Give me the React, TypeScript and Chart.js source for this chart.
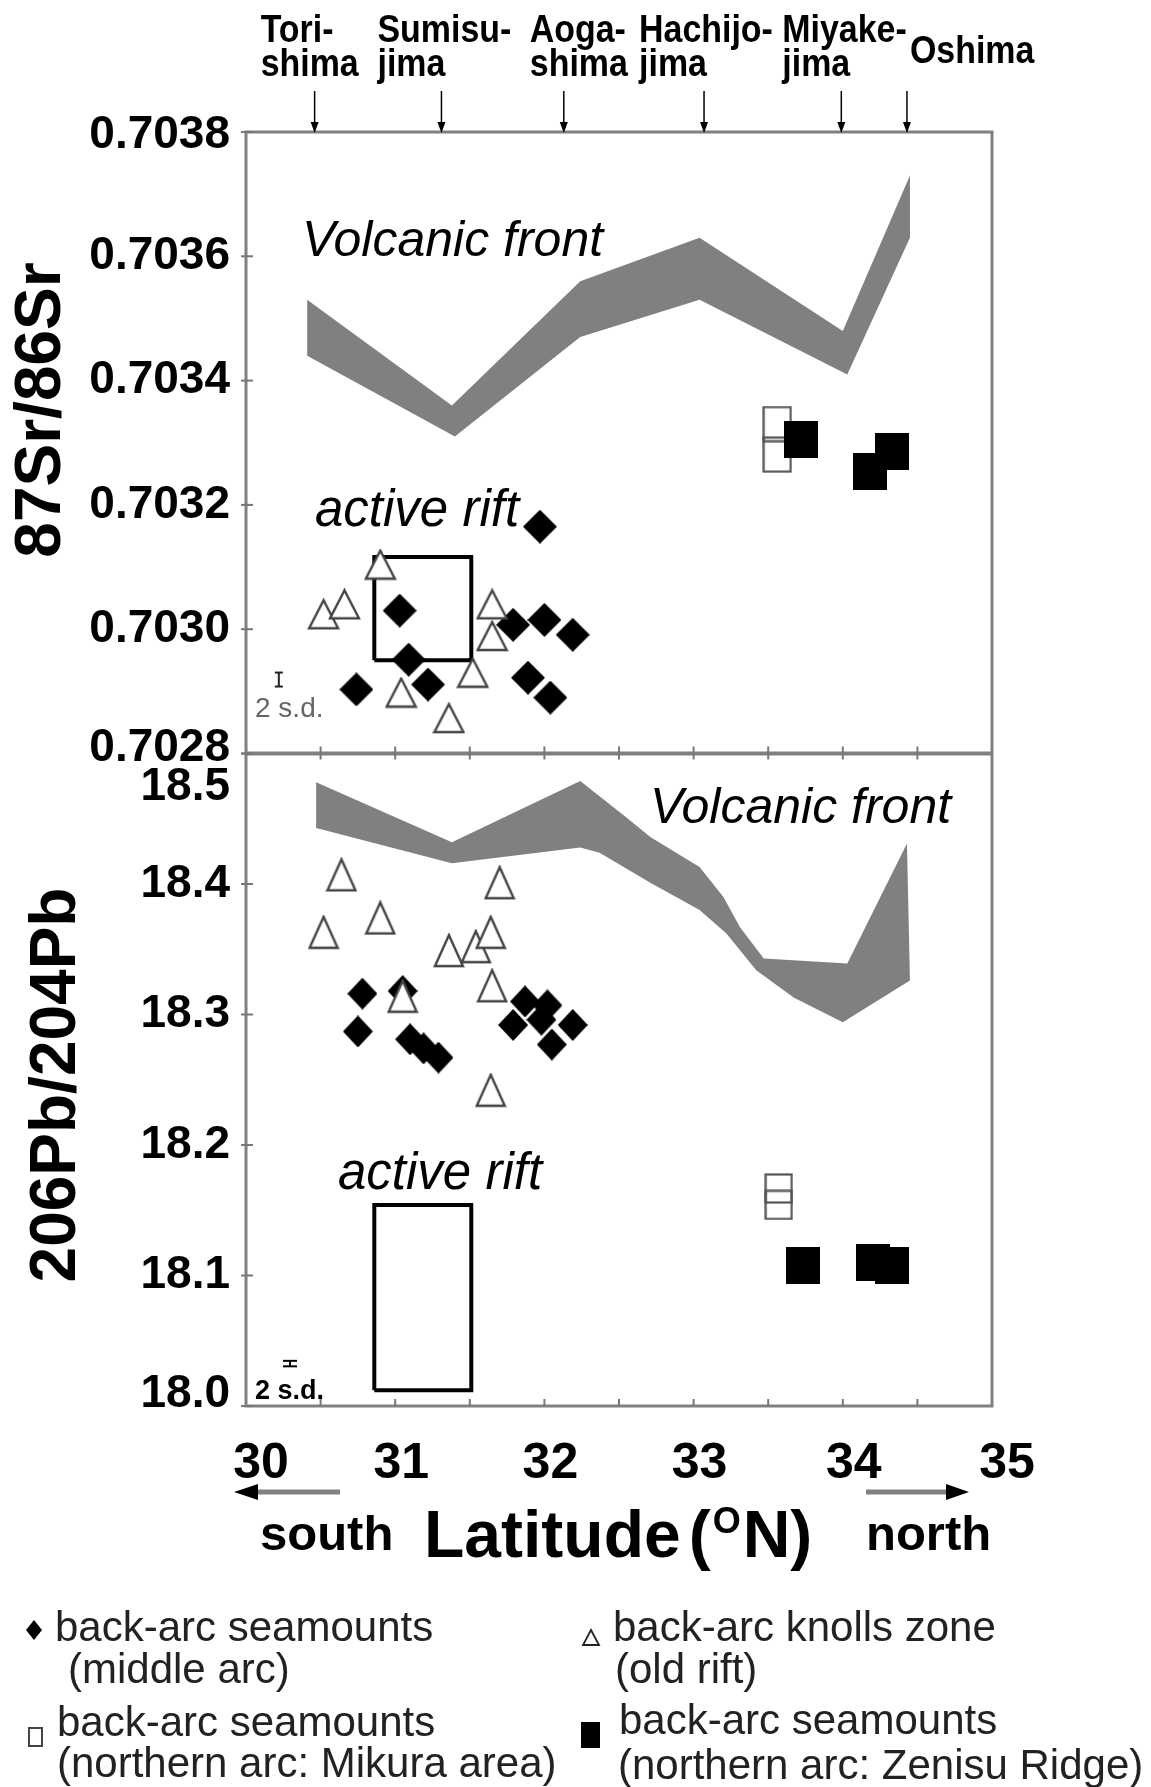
import React, { useEffect, useRef } from 'react';
import { Chart, registerables } from 'chart.js';

Chart.register(...registerables);

const FONT = '"Liberation Sans", Arial, Helvetica, sans-serif';

// ---------- axes ----------
const latMin = 30;
const latMax = 35;
const latTickLabels = [30, 31, 32, 33, 34, 35];
const srMin = 0.7028;
const srMax = 0.7038;
const srTicks = [0.7028, 0.703, 0.7032, 0.7034, 0.7036, 0.7038];
const srTickLabels = ['0.7028', '0.7030', '0.7032', '0.7034', '0.7036', '0.7038'];
const pbMin = 18.0;
const pbMax = 18.5;
const pbTicks = [18.0, 18.1, 18.2, 18.3, 18.4, 18.5];
const pbTickLabels = ['18.0', '18.1', '18.2', '18.3', '18.4', '18.5'];

// ---------- islands on the volcanic front ----------
const islandLines = [['Tori-', 'shima'], ['Sumisu-', 'jima'], ['Aoga-', 'shima'], ['Hachijo-', 'jima'], ['Miyake-', 'jima'], ['Oshima']];
const islandLat = [30.46, 31.31, 32.13, 33.07, 33.99, 34.43];

// ---------- volcanic front bands ----------
const vfSrUpperLat = [30.41, 31.38, 32.24, 33.04, 34.0, 34.45];
const vfSrUpper = [0.70353, 0.70336, 0.70356, 0.70363, 0.70348, 0.70373];
const vfSrLowerLat = [30.41, 31.4, 32.24, 33.04, 34.03, 34.45];
const vfSrLower = [0.70344, 0.70331, 0.70347, 0.70353, 0.70341, 0.70363];

const vfPbUpperLat = [30.47, 31.38, 32.24, 32.55, 32.71, 33.04, 33.2, 33.31, 33.47, 34.03, 34.43];
const vfPbUpper = [18.478, 18.432, 18.479, 18.451, 18.436, 18.413, 18.39, 18.367, 18.343, 18.339, 18.431];
const vfPbLowerLat = [30.47, 31.38, 32.24, 32.37, 32.71, 33.04, 33.22, 33.42, 33.67, 34.0, 34.45];
const vfPbLower = [18.443, 18.416, 18.428, 18.424, 18.401, 18.38, 18.362, 18.334, 18.313, 18.294, 18.326];

// ---------- active rift range ----------
const riftLat = [30.86, 31.51];
const riftSr = [0.70295, 0.703116];
const riftPb = [18.012, 18.154];

// ---------- back-arc seamounts (middle arc) ----------
const midArcSrLat = [31.97, 31.03, 31.09, 30.74, 31.22, 31.79, 32.0, 32.19, 31.89, 32.04];
const midArcSr = [0.703165, 0.70303, 0.702951, 0.702903, 0.702911, 0.703007, 0.703015, 0.702991, 0.702922, 0.70289];
const midArcPbLat = [30.78, 30.75, 31.05, 31.1, 31.19, 31.29, 31.87, 32.02, 31.79, 32.19, 32.05, 31.98];
const midArcPb = [18.316, 18.287, 18.318, 18.281, 18.274, 18.267, 18.31, 18.307, 18.292, 18.292, 18.277, 18.296];

// ---------- back-arc knolls zone (old rift) ----------
const knollSrLat = [30.9, 30.52, 30.66, 31.65, 31.65, 31.52, 31.04, 31.36];
const knollSr = [0.703104, 0.703024, 0.70304, 0.70304, 0.702989, 0.70293, 0.702898, 0.702857];
const knollPbLat = [30.64, 30.52, 30.9, 31.7, 31.36, 31.54, 31.64, 31.65, 31.05, 31.64];
const knollPb = [18.407, 18.363, 18.374, 18.401, 18.349, 18.352, 18.363, 18.322, 18.314, 18.242];

// ---------- back-arc seamounts (northern arc: Mikura area) ----------
const mikuraSrLat = [33.56, 33.56];
const mikuraSr = [0.70333, 0.703281];
const mikuraPbLat = [33.57, 33.57];
const mikuraPb = [18.1667, 18.1541];

// ---------- back-arc seamounts (northern arc: Zenisu Ridge) ----------
const zenisuSrLat = [33.72, 34.18, 34.33];
const zenisuSr = [0.703306, 0.703253, 0.703286];
const zenisuPbLat = [33.73, 34.2, 34.33];
const zenisuPb = [18.108, 18.11, 18.108];

// ---------- 2 s.d. error bars ----------
const sdSrLat = 30.22;
const sdSrCenter = 0.702919;
const sdSr = 0.0000225;
const sdPbLat = 30.295;
const sdPbCenter = 18.0325;
const sdPb = 0.0042;

const zip = (xs: number[], ys: number[]) => xs.map((x, i) => ({ x, y: ys[i] }));
const band = (uLat: number[], u: number[], lLat: number[], l: number[]) =>
  [...zip(uLat, u), ...zip(lLat, l).reverse()];
const rect = (xs: number[], ys: number[]) => [
  { x: xs[0], y: ys[0] }, { x: xs[1], y: ys[0] }, { x: xs[1], y: ys[1] }, { x: xs[0], y: ys[1] }, { x: xs[0], y: ys[0] },
];

function mk(w: number, h: number, draw: (g: CanvasRenderingContext2D, w: number, h: number) => void) {
  const c = document.createElement('canvas');
  c.width = w;
  c.height = h;
  const g = c.getContext('2d') as CanvasRenderingContext2D;
  draw(g, w, h);
  return c;
}
const diamond = (w: number, h: number) => mk(w, h, (g) => {
  g.beginPath(); g.moveTo(w / 2, 0); g.lineTo(w, h / 2); g.lineTo(w / 2, h); g.lineTo(0, h / 2); g.closePath();
  g.fillStyle = '#000'; g.fill();
});
const triangle = (w: number, h: number) => mk(w, h, (g) => {
  const p = 2;
  g.beginPath(); g.moveTo(w / 2, p); g.lineTo(w - p, h - p); g.lineTo(p, h - p); g.closePath();
  g.fillStyle = '#fff'; g.fill(); g.strokeStyle = '#444'; g.lineWidth = 2.4; g.stroke();
});
const openSq = (w: number, h: number) => mk(w, h, (g) => {
  g.strokeStyle = '#555'; g.lineWidth = 2.2; g.strokeRect(1.5, 1.5, w - 3, h - 3);
});
const fillSq = (w: number, h: number) => mk(w, h, (g) => { g.fillStyle = '#000'; g.fillRect(0, 0, w, h); });

function drawText(ctx: CanvasRenderingContext2D, s: string, x: number, y: number, font: string, color = '#000', align: CanvasTextAlign = 'left', baseline: CanvasTextBaseline = 'alphabetic', sx = 1) {
  ctx.save();
  ctx.font = font;
  ctx.fillStyle = color;
  ctx.textAlign = align;
  ctx.textBaseline = baseline;
  ctx.translate(x, y);
  ctx.scale(sx, 1);
  ctx.fillText(s, 0, 0);
  ctx.restore();
}
function seg(ctx: CanvasRenderingContext2D, x1: number, y1: number, x2: number, y2: number) {
  ctx.beginPath(); ctx.moveTo(x1, y1); ctx.lineTo(x2, y2); ctx.stroke();
}
function tri(ctx: CanvasRenderingContext2D, pts: number[][], color: string) {
  ctx.beginPath(); ctx.moveTo(pts[0][0], pts[0][1]);
  for (let i = 1; i < pts.length; i++) ctx.lineTo(pts[i][0], pts[i][1]);
  ctx.closePath(); ctx.fillStyle = color; ctx.fill();
}

const overlay = {
  id: 'overlay',
  afterDraw(chart: any) {
    const ctx: CanvasRenderingContext2D = chart.ctx;
    const ca = chart.chartArea;
    const xs = chart.scales.x;
    const ys = chart.scales.ySr;
    const yp = chart.scales.yPb;
    const X = (v: number) => xs.getPixelForValue(v);
    const mid = ys.bottom;
    ctx.save();

    // frames
    ctx.strokeStyle = '#808080';
    ctx.lineWidth = 3;
    ctx.strokeRect(ca.left, ca.top, ca.right - ca.left, ca.bottom - ca.top);
    ctx.lineWidth = 4;
    seg(ctx, ca.left, mid, ca.right, mid);

    // ticks
    ctx.lineWidth = 2;
    ctx.strokeStyle = '#777';
    srTicks.forEach((v) => { const y = ys.getPixelForValue(v); seg(ctx, ca.left - 5, y, ca.left + 7, y); });
    pbTicks.forEach((v) => { const y = yp.getPixelForValue(v); seg(ctx, ca.left - 5, y, ca.left + 7, y); });
    for (let v = latMin + 0.5; v < latMax; v += 0.5) {
      const x = X(v);
      seg(ctx, x, ca.bottom, x, ca.bottom - 7);
      seg(ctx, x, mid - 7, x, mid + 6);
    }

    // y tick labels
    const tickFont = `bold 46px ${FONT}`;
    srTicks.forEach((v, i) => {
      let y = ys.getPixelForValue(v);
      if (v === srMin) y -= 5;
      if (v === srMax) y += 3;
      drawText(ctx, srTickLabels[i], 230, y, tickFont, '#000', 'right', 'middle');
    });
    pbTicks.forEach((v, i) => {
      let y = yp.getPixelForValue(v);
      if (v === pbMax) y += 34;
      if (v === pbMin) y -= 12;
      drawText(ctx, pbTickLabels[i], 230, y, tickFont, '#000', 'right', 'middle');
    });

    // x tick labels
    latTickLabels.forEach((v) => {
      const shift = v === latMin || v === latMax ? 15 : v === 34 ? 11 : 6;
      drawText(ctx, String(v), X(v) + shift, 1478, `bold 50px ${FONT}`, '#000', 'center');
    });

    // axis titles
    ctx.save();
    ctx.translate(42, 410); ctx.rotate(-Math.PI / 2);
    drawText(ctx, '87Sr/86Sr', 0, 0, `bold 64px ${FONT}`, '#000', 'center', 'middle');
    ctx.restore();
    ctx.save();
    ctx.translate(57, 1085); ctx.rotate(-Math.PI / 2);
    drawText(ctx, '206Pb/204Pb', 0, 0, `bold 64px ${FONT}`, '#000', 'center', 'middle');
    ctx.restore();

    // island labels & arrows
    const dx = [-54, -64, -34, -65, -59, 3];
    islandLat.forEach((lat, i) => {
      const x = X(lat);
      ctx.strokeStyle = '#000'; ctx.lineWidth = 1.5;
      seg(ctx, x, 91, x, ca.top - 8);
      tri(ctx, [[x, ca.top + 1], [x - 4, ca.top - 10], [x + 4, ca.top - 10]], '#000');
      const lines = islandLines[i];
      const f = `bold 39px ${FONT}`;
      if (lines.length === 1) {
        drawText(ctx, lines[0], x + dx[i], 63, f, '#000', 'left', 'alphabetic', 0.87);
      } else {
        drawText(ctx, lines[0], x + dx[i], 42, f, '#000', 'left', 'alphabetic', 0.87);
        drawText(ctx, lines[1], x + dx[i], 76, f, '#000', 'left', 'alphabetic', 0.87);
      }
    });

    // annotations
    const it = `italic 50px ${FONT}`;
    drawText(ctx, 'Volcanic front', 302, 256, it);
    drawText(ctx, 'Volcanic front', 650, 823, it);
    drawText(ctx, 'active rift', 315, 526, `italic 51px ${FONT}`);
    drawText(ctx, 'active rift', 338, 1189, `italic 51px ${FONT}`);

    // 2 s.d. bars
    {
      const x = X(sdSrLat);
      const y1 = ys.getPixelForValue(sdSrCenter + sdSr / 2);
      const y2 = ys.getPixelForValue(sdSrCenter - sdSr / 2);
      ctx.strokeStyle = '#222'; ctx.lineWidth = 2;
      seg(ctx, x, y1, x, y2); seg(ctx, x - 4, y1, x + 4, y1); seg(ctx, x - 4, y2, x + 4, y2);
      drawText(ctx, '2 s.d.', 255, 717, `28px ${FONT}`, '#666');
    }
    {
      const x = X(sdPbLat);
      const y1 = yp.getPixelForValue(sdPbCenter + sdPb / 2);
      const y2 = yp.getPixelForValue(sdPbCenter - sdPb / 2);
      ctx.strokeStyle = '#000'; ctx.lineWidth = 2;
      seg(ctx, x, y1, x, y2); seg(ctx, x - 7, y1, x + 7, y1); seg(ctx, x - 7, y2, x + 7, y2);
      drawText(ctx, '2 s.d.', 255, 1399, `bold 27px ${FONT}`, '#000');
    }

    // south / north arrows
    ctx.strokeStyle = '#808080'; ctx.lineWidth = 5;
    seg(ctx, 254, 1492, 340, 1492);
    tri(ctx, [[234, 1492], [258, 1484], [258, 1500]], '#000');
    seg(ctx, 866, 1492, 950, 1492);
    tri(ctx, [[969, 1492], [946, 1484], [946, 1500]], '#000');

    drawText(ctx, 'south', 260, 1550, `bold 49px ${FONT}`);
    drawText(ctx, 'north', 866, 1550, `bold 49px ${FONT}`);
    {
      const big = `bold 66px ${FONT}`;
      const small = `bold 36px ${FONT}`;
      ctx.font = big;
      let x = 424;
      drawText(ctx, 'Latitude', x, 1557, big);
      ctx.font = big; x += ctx.measureText('Latitude').width + 8;
      drawText(ctx, '(', x, 1557, big);
      ctx.font = big; x += ctx.measureText('(').width + 2;
      drawText(ctx, 'O', x, 1533, small);
      ctx.font = small; x += ctx.measureText('O').width + 2;
      drawText(ctx, 'N)', x, 1557, big);
    }

    // legend
    const lf = `42px ${FONT}`;
    const lc = '#222';
    tri(ctx, [[34, 1620], [42, 1630], [34, 1640], [26, 1630]], '#000');
    drawText(ctx, 'back-arc seamounts', 55, 1641, lf, lc);
    drawText(ctx, '(middle arc)', 68, 1683, lf, lc);

    ctx.beginPath(); ctx.moveTo(591, 1630); ctx.lineTo(599, 1645); ctx.lineTo(583, 1645); ctx.closePath();
    ctx.fillStyle = '#fff'; ctx.fill(); ctx.strokeStyle = '#222'; ctx.lineWidth = 1.8; ctx.stroke();
    drawText(ctx, 'back-arc knolls zone', 613, 1641, lf, lc);
    drawText(ctx, '(old rift)', 615, 1683, lf, lc);

    ctx.strokeStyle = '#444'; ctx.lineWidth = 2;
    ctx.strokeRect(29, 1728, 13, 18);
    drawText(ctx, 'back-arc seamounts', 57, 1736, lf, lc);
    drawText(ctx, '(northern arc: Mikura area)', 57, 1777, lf, lc);

    ctx.fillStyle = '#000';
    ctx.fillRect(581, 1722, 19, 26);
    drawText(ctx, 'back-arc seamounts', 619, 1734, lf, lc);
    drawText(ctx, '(northern arc: Zenisu Ridge)', 618, 1779, lf, lc);

    ctx.restore();
  },
};

export default function App() {
  const ref = useRef<HTMLCanvasElement | null>(null);
  useEffect(() => {
    const canvas = ref.current;
    if (!canvas) return;
    const mDiaTop = diamond(34, 34);
    const mDiaBot = diamond(30, 32);
    const mTriTop = triangle(33, 32);
    const mTriBot = triangle(32, 35);
    const mOpenTop = openSq(30, 37);
    const mOpenBot = openSq(29, 31);
    const mFill = fillSq(34, 37);

    const pts = (data: any[], yAxisID: string, style: any, order: number) => ({
      type: 'scatter' as const,
      data,
      yAxisID,
      pointStyle: style,
      pointRadius: 10,
      pointHoverRadius: 10,
      showLine: false,
      order,
    });
    const area = (data: any[], yAxisID: string) => ({
      type: 'line' as const,
      data,
      yAxisID,
      fill: 'shape',
      backgroundColor: '#808080',
      borderColor: 'rgba(0,0,0,0)',
      borderWidth: 0,
      pointRadius: 0,
      tension: 0,
      order: 10,
    });
    const box = (data: any[], yAxisID: string) => ({
      type: 'line' as const,
      data,
      yAxisID,
      fill: false,
      borderColor: '#000',
      borderWidth: 4,
      borderJoinStyle: 'miter',
      pointRadius: 0,
      tension: 0,
      order: 8,
    });

    const chart = new Chart(canvas, {
      type: 'scatter',
      data: {
        datasets: [
          area(band(vfSrUpperLat, vfSrUpper, vfSrLowerLat, vfSrLower), 'ySr'),
          area(band(vfPbUpperLat, vfPbUpper, vfPbLowerLat, vfPbLower), 'yPb'),
          box(rect(riftLat, riftSr), 'ySr'),
          box(rect(riftLat, riftPb), 'yPb'),
          pts(zip(midArcSrLat, midArcSr), 'ySr', mDiaTop, 5),
          pts(zip(midArcPbLat, midArcPb), 'yPb', mDiaBot, 5),
          pts(zip(knollSrLat, knollSr), 'ySr', mTriTop, 4),
          pts(zip(knollPbLat, knollPb), 'yPb', mTriBot, 4),
          pts(zip(mikuraSrLat, mikuraSr), 'ySr', mOpenTop, 3),
          pts(zip(mikuraPbLat, mikuraPb), 'yPb', mOpenBot, 3),
          pts(zip(zenisuSrLat, zenisuSr), 'ySr', mFill, 2),
          pts(zip(zenisuPbLat, zenisuPb), 'yPb', mFill, 2),
        ] as any,
      },
      options: {
        animation: false,
        responsive: false,
        maintainAspectRatio: false,
        events: [],
        layout: { padding: { top: 132, right: 159, left: 0, bottom: 0 } },
        plugins: { legend: { display: false }, tooltip: { enabled: false } },
        scales: {
          x: {
            type: 'linear', min: latMin, max: latMax,
            ticks: { display: false }, grid: { display: false }, border: { display: false },
            afterFit: (s: any) => { s.height = 381; },
          },
          ySr: {
            type: 'linear', position: 'left', stack: 'v', stackWeight: 622, weight: 2,
            min: srMin, max: srMax,
            ticks: { display: false }, grid: { display: false }, border: { display: false },
            afterFit: (s: any) => { s.width = 246; },
          },
          yPb: {
            type: 'linear', position: 'left', stack: 'v', stackWeight: 653, weight: 1,
            min: pbMin, max: pbMax,
            ticks: { display: false }, grid: { display: false }, border: { display: false },
            afterFit: (s: any) => { s.width = 246; },
          },
        } as any,
      },
      plugins: [overlay as any],
    });
    return () => chart.destroy();
  }, []);

  return (
    <div style={{ position: 'absolute', left: 0, top: 0, width: 1151, height: 1787, background: '#fff' }}>
      <canvas ref={ref} width={1151} height={1787} style={{ display: 'block', width: 1151, height: 1787 }} />
    </div>
  );
}
